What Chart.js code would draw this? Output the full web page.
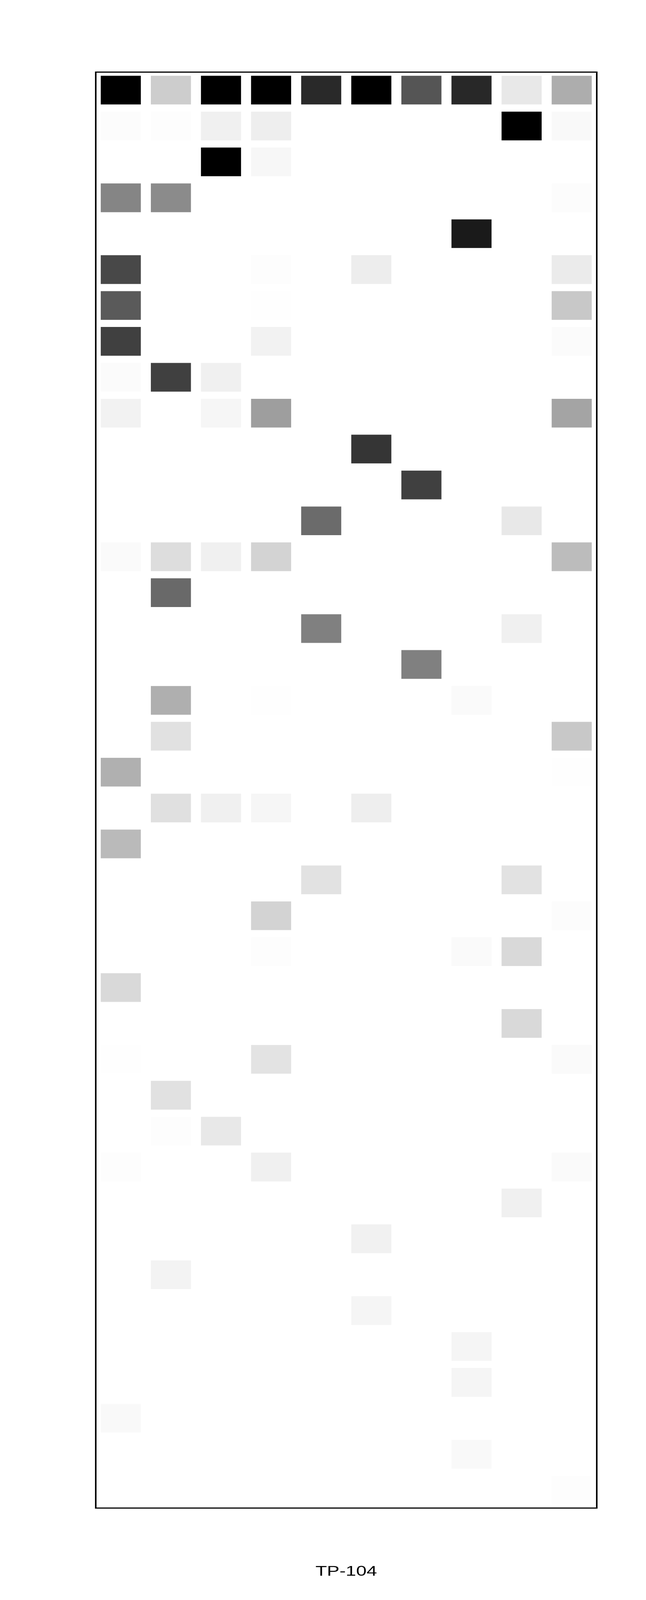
<!DOCTYPE html>
<html>
<head>
<meta charset="utf-8">
<title>TP-104</title>
<script src="https://cdn.jsdelivr.net/npm/chart.js@4.4.1/dist/chart.umd.min.js"></script>
<style>
  html, body { margin: 0; padding: 0; background: #ffffff; overflow: hidden; }
  #wrap { width: 1653px; height: 5456px; transform-origin: 0 0; }
  canvas { display: block; }
</style>
</head>
<body>
<div id="wrap"><canvas id="heat" width="1653" height="5456"></canvas></div>
<script>
// 40 rows (top to bottom) x 10 columns, intensity 0 (white) .. 1 (black)
var rowLabels = [];
for (var r = 1; r <= 40; r++) { rowLabels.push(String(r)); }
var colLabels = ["1", "2", "3", "4", "5", "6", "7", "8", "9", "10"];

var col1  = [1, 0.012, 0, 0.478, 0, 0.718, 0.647, 0.749, 0.016, 0.051, 0, 0, 0, 0.020, 0, 0, 0, 0, 0, 0.310, 0, 0.271, 0, 0, 0, 0.149, 0, 0.004, 0, 0, 0.008, 0, 0, 0, 0, 0, 0, 0.024, 0, 0];
var col2  = [0.196, 0.008, 0, 0.455, 0, 0, 0, 0, 0.749, 0, 0, 0, 0, 0.133, 0.588, 0, 0, 0.314, 0.118, 0, 0.122, 0, 0, 0, 0, 0, 0, 0, 0.118, 0.008, 0, 0, 0, 0.047, 0, 0, 0, 0, 0, 0];
var col3  = [1, 0.059, 1, 0, 0, 0, 0, 0, 0.059, 0.035, 0, 0, 0, 0.059, 0, 0, 0, 0, 0, 0, 0.059, 0, 0, 0, 0, 0, 0, 0, 0, 0.090, 0, 0, 0, 0, 0, 0, 0, 0, 0, 0];
var col4  = [1, 0.067, 0.031, 0, 0, 0.008, 0.004, 0.051, 0, 0.380, 0, 0, 0, 0.173, 0, 0, 0, 0.004, 0, 0, 0.035, 0, 0, 0.173, 0.008, 0, 0, 0.110, 0, 0, 0.059, 0, 0, 0, 0, 0, 0, 0, 0, 0];
var col5  = [0.839, 0, 0, 0, 0, 0, 0, 0, 0, 0, 0, 0, 0.580, 0, 0, 0.498, 0, 0, 0, 0, 0, 0, 0.114, 0, 0, 0, 0, 0, 0, 0, 0, 0, 0, 0, 0, 0, 0, 0, 0, 0];
var col6  = [1, 0, 0, 0, 0, 0.071, 0, 0, 0, 0, 0.792, 0, 0, 0, 0, 0, 0, 0, 0, 0, 0.067, 0, 0, 0, 0, 0, 0, 0, 0, 0, 0, 0, 0.055, 0, 0.039, 0, 0, 0, 0, 0];
var col7  = [0.667, 0, 0, 0, 0, 0, 0, 0, 0, 0, 0, 0.749, 0, 0, 0, 0, 0.498, 0, 0, 0, 0, 0, 0, 0, 0, 0, 0, 0, 0, 0, 0, 0, 0, 0, 0, 0, 0, 0, 0, 0];
var col8  = [0.843, 0, 0, 0, 0.898, 0, 0, 0, 0, 0, 0, 0, 0, 0, 0, 0, 0, 0.020, 0, 0, 0, 0, 0, 0, 0.020, 0, 0, 0, 0, 0, 0, 0, 0, 0, 0, 0.039, 0.039, 0, 0.024, 0];
var col9  = [0.090, 1, 0, 0, 0, 0, 0, 0, 0, 0, 0, 0, 0.090, 0, 0, 0.059, 0, 0, 0, 0, 0, 0, 0.114, 0, 0.149, 0, 0.149, 0, 0, 0, 0, 0.059, 0, 0, 0, 0, 0, 0, 0, 0];
var col10 = [0.322, 0.024, 0, 0.012, 0, 0.078, 0.216, 0.016, 0, 0.357, 0, 0, 0, 0.263, 0, 0, 0, 0, 0.216, 0.004, 0, 0, 0, 0.012, 0, 0, 0, 0.020, 0, 0, 0.020, 0, 0, 0, 0, 0, 0, 0, 0, 0.008];

var columns = [col1, col2, col3, col4, col5, col6, col7, col8, col9, col10];
var xTitle = "TP-104";

// the page is laid out at 1653x5456; shrink it to whatever window we get
var W = 1653, H = 5456;
var sx = (window.innerWidth || W) / W;
var sy = (window.innerHeight || H) / H;
document.getElementById("wrap").style.transform = "scale(" + sx + "," + sy + ")";

function grey(v) {
    var g = Math.round(255 * (1 - v));
    return "rgb(" + g + "," + g + "," + g + ")";
}

// one dataset per column; each row is a floating bar spanning the column cell
var datasets = columns.map(function(values, c) {
    var x = c + 1;
    return {
        label: colLabels[c],
        data: values.map(function() { return [x - 0.4, x + 0.4]; }),
        backgroundColor: values.map(grey),
        borderWidth: 0,
        grouped: false,
        barPercentage: 0.8,
        categoryPercentage: 1.0
    };
});

// black frame round the plot area
var frame = {
    id: "frame",
    afterDatasetsDraw: function(chart) {
        var a = chart.chartArea;
        var ctx = chart.ctx;
        ctx.save();
        ctx.strokeStyle = "#000000";
        ctx.lineWidth = 4;
        ctx.strokeRect(a.left, a.top, a.right - a.left, a.bottom - a.top);
        ctx.restore();
    }
};

var ctx = document.getElementById("heat").getContext("2d");
new Chart(ctx, {
    type: "bar",
    data: { labels: rowLabels, datasets: datasets },
    options: {
        indexAxis: "y",
        responsive: false,
        animation: false,
        devicePixelRatio: 1,
        layout: { padding: { left: 245, right: 126, top: 246, bottom: 67 } },
        plugins: {
            legend: { display: false },
            tooltip: { enabled: false }
        },
        scales: {
            x: {
                type: "linear",
                min: 0.5,
                max: 10.5,
                grid: { display: false },
                border: { display: false },
                ticks: { display: false },
                title: {
                    display: true,
                    text: xTitle,
                    color: "#000000",
                    font: { family: "Liberation Sans, Arial, sans-serif", size: 48 },
                    padding: { top: 181, bottom: 0 }
                }
            },
            y: {
                type: "category",
                display: false
            }
        }
    },
    plugins: [frame]
});
</script>
</body>
</html>
